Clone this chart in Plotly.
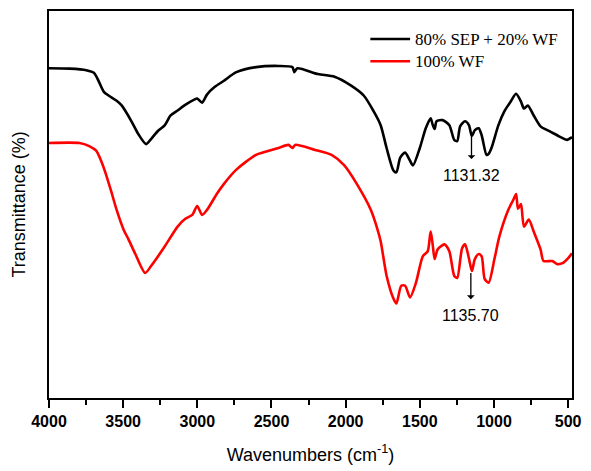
import plotly.graph_objects as go

# Wavenumbers (cm^-1) and transmittance (arbitrary %)
wn_sep = [4000, 3861, 3749, 3696, 3663, 3630, 3596, 3544, 3510, 3444, 3398, 3345, 3312,
          3266, 3219, 3180, 3133, 3087, 3021, 3001, 2968, 2935, 2882, 2823, 2737, 2604,
          2452, 2359, 2346, 2326, 2187, 2075, 1963, 1877, 1810, 1764, 1724, 1678, 1658,
          1632, 1599, 1566, 1546, 1500, 1460, 1427, 1414, 1400, 1387, 1347, 1301, 1268,
          1248, 1228, 1195, 1169, 1149, 1129, 1103, 1083, 1050, 1036, 1017, 970, 931,
          884, 851, 818, 798, 772, 732, 686, 640, 574, 540, 507, 474]
t_sep = [85.2, 85.1, 84.7, 84.0, 81.7, 79.1, 78.1, 76.8, 75.6, 71.5, 68.2, 65.6, 66.9,
         69.0, 70.5, 73.0, 74.3, 75.6, 77.1, 77.4, 76.3, 78.4, 80.4, 81.9, 84.2, 85.5,
         85.8, 85.5, 84.2, 85.2, 83.7, 83.0, 80.7, 78.1, 74.0, 70.5, 64.6, 58.8, 58.3,
         62.1, 63.4, 61.3, 60.1, 64.6, 69.7, 72.3, 70.7, 69.5, 71.5, 71.8, 70.5, 66.7,
         66.4, 70.2, 71.5, 70.5, 67.7, 69.2, 69.7, 67.9, 62.8, 63.1, 64.6, 70.5, 74.0,
         76.8, 78.6, 76.6, 74.8, 75.6, 73.0, 70.2, 69.2, 67.9, 67.2, 66.7, 67.4]

wn_wf = [4000, 3795, 3729, 3682, 3649, 3616, 3583, 3544, 3497, 3464, 3418, 3352, 3312,
         3219, 3133, 3081, 3034, 3001, 2968, 2935, 2869, 2823, 2737, 2604, 2452, 2386,
         2359, 2340, 2207, 2095, 2009, 1923, 1830, 1791, 1764, 1724, 1678, 1658, 1625,
         1599, 1566, 1526, 1480, 1447, 1427, 1414, 1400, 1380, 1334, 1301, 1268, 1248,
         1215, 1195, 1169, 1149, 1129, 1103, 1083, 1063, 1036, 997, 964, 904, 871, 851,
         838, 818, 798, 765, 732, 686, 666, 607, 574, 534, 501, 474]
t_wf = [65.9, 65.9, 65.1, 63.9, 61.3, 57.8, 53.7, 48.6, 43.5, 41.0, 37.2, 32.3, 34.1,
        39.2, 44.3, 46.3, 47.3, 49.6, 47.3, 48.6, 52.7, 55.2, 59.0, 62.8, 64.6, 65.4,
        64.6, 65.4, 64.1, 62.8, 60.1, 55.2, 48.6, 44.3, 40.5, 31.6, 25.7, 24.4, 29.0,
        29.0, 26.0, 29.8, 36.6, 37.9, 43.0, 39.9, 35.9, 38.4, 39.7, 37.9, 31.6, 31.0,
        38.7, 39.7, 36.1, 32.8, 35.9, 37.2, 36.6, 30.8, 29.8, 35.9, 41.7, 48.6, 51.1, 52.7,
        48.9, 50.1, 44.3, 46.1, 43.0, 38.4, 35.4, 35.4, 34.6, 34.9, 36.1, 37.4]

series_names = ["80% SEP + 20% WF", "100% WF"]
series_colors = ["#000000", "#ff0000"]

# peak markers: (label, wavenumber, arrow start T on curve, label T)
peaks = [("1131.32", 1131.32, 67.9, 57.6),
         ("1135.70", 1135.70, 32.3, 21.4)]

x_ticks = [4000, 3500, 3000, 2500, 2000, 1500, 1000, 500]

fig = go.Figure()
for wn, t, name, col in [(wn_sep, t_sep, series_names[0], series_colors[0]),
                         (wn_wf, t_wf, series_names[1], series_colors[1])]:
    fig.add_trace(go.Scatter(x=wn, y=t, mode="lines", name=name,
                             line=dict(color=col, width=2.6, shape="spline", smoothing=0.7),
                             showlegend=False))

annotations = []
for label, wn, top, ty in peaks:
    annotations.append(dict(x=wn, y=top, ax=wn, ay=ty, xref="x", yref="y",
                            axref="x", ayref="y", text=label, showarrow=True,
                            arrowside="start", arrowhead=2, arrowsize=1.6,
                            arrowwidth=1.3, arrowcolor="black", startstandoff=6,
                            xshift=-3,
                            font=dict(family="Liberation Sans, Arial", size=16,
                                      color="black")))

# legend
shapes = []
leg_y = [0.9275, 0.8702]
for name, col, yy in zip(series_names, series_colors, leg_y):
    shapes.append(dict(type="line", xref="paper", yref="paper", x0=0.6144, x1=0.6904,
                       y0=yy, y1=yy, line=dict(color=col, width=2.5)))
    annotations.append(dict(xref="paper", yref="paper", x=0.6960, y=yy, xanchor="left",
                            yanchor="middle", text=name, showarrow=False,
                            font=dict(family="Liberation Serif, Times New Roman", size=17,
                                      color="black")))

annotations.append(dict(xref="paper", yref="paper", x=0, y=0.5, xshift=-31,
                        xanchor="center", yanchor="middle", textangle=-90,
                        text="Transmittance (%)", showarrow=False,
                        font=dict(family="Liberation Sans, Arial", size=18, color="black")))

fig.update_layout(
    width=591, height=471,
    margin=dict(l=49, r=9, t=11, b=67),
    paper_bgcolor="white", plot_bgcolor="white",
    annotations=annotations, shapes=shapes,
    xaxis=dict(range=[4000, 474], tickvals=x_ticks, ticktext=[str(v) for v in x_ticks],
               ticks="outside", ticklen=8, tickwidth=1.5, tickcolor="black",
               showline=True, linecolor="black", linewidth=1.8, mirror=True,
               showgrid=False, zeroline=False,
               tickfont=dict(family="Liberation Sans, Arial", size=16, color="black",
                             weight="bold"),
               minor=dict(tickvals=[3750, 3250, 2750, 2250, 1750, 1250, 750],
                          ticks="outside", ticklen=5, tickwidth=1.5, tickcolor="black"),
               title=dict(text="Wavenumbers (cm<sup>-1</sup>)", standoff=19,
                          font=dict(family="Liberation Sans, Arial", size=18,
                                    color="black"))),
    yaxis=dict(range=[0, 100], showticklabels=False, ticks="", showline=True,
               linecolor="black", linewidth=1.8, mirror=True, showgrid=False,
               zeroline=False),
)

fig.write_html("out.html")
